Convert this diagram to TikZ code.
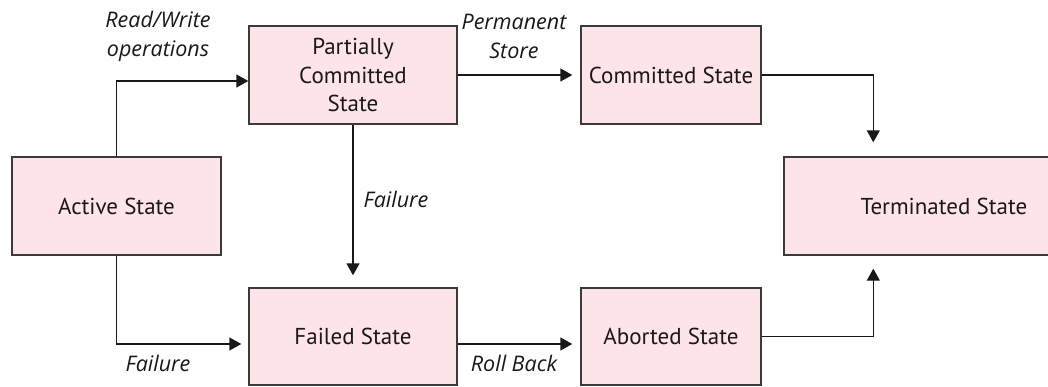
\documentclass[tikz,border=0pt]{standalone}
\usepackage{fontspec}
\setmainfont{PT Sans}
\newfontfamily\labelfont{Open Sans}
\usetikzlibrary{arrows.meta,calc}
\definecolor{boxfill}{RGB}{253,228,232}
\definecolor{edge}{RGB}{58,58,58}
\definecolor{ink}{RGB}{25,25,25}
\begin{document}
\begin{tikzpicture}[x=1pt,y=-1pt,
  state/.style={draw=edge, line width=1.4pt, fill=boxfill, align=center,
    inner sep=0pt, text=ink, font=\fontsize{23}{28.5}\selectfont},
  flow/.style={draw=ink, line width=1.4pt, -{Triangle[length=12pt,width=13pt]}},
  lbl/.style={font=\labelfont\fontsize{21.5}{29}\selectfont\itshape, text=ink,
    align=center, inner sep=0pt}]
\useasboundingbox (0,0) rectangle (1048,386);
\clip (0,0) rectangle (1048,386);
\fill[white] (0,0) rectangle (1048,386);

% transaction states
\node[state, minimum width=209pt, minimum height=98pt] (act)  at (116.5,206) {Active State};
\node[state, minimum width=208pt, minimum height=98pt] (pc)   at (353,75)    {Partially\\Committed\\State};
\node[state, minimum width=180pt, minimum height=98pt] (cm)   at (671,75)    {Committed State};
\node[state, minimum width=320pt, minimum height=98pt] (term) at (944,206)   {Terminated State};
\node[state, minimum width=208pt, minimum height=97pt] (fail) at (353,336.5) {Failed State};
\node[state, minimum width=180pt, minimum height=97pt] (ab)   at (671,336.5) {Aborted State};

% transitions
\draw[flow] (act.north) |- ($(pc.west)+(0,6)$);
\draw[flow, shorten >=8pt] (pc.east) -- (cm.west);
\draw[flow, shorten >=14pt] (cm.east) -| ($(term.north west)+(90,0)$);
\draw[flow, shorten >=12pt] (pc.south) -- (fail.north);
\draw[flow, shorten >=7pt] (act.south) |- ($(fail.west)+(0,7.5)$);
\draw[flow, shorten >=8pt] ($(fail.east)+(0,7.5)$) -- ($(ab.west)+(0,7.5)$);
\draw[flow, shorten >=13pt] (ab.east) -| ($(term.south west)+(90,0)$);

% transition labels
\node[lbl] (lrw)   at (158,36.5) {Read/Write\\operations};
\node[lbl] (lps)   at (514,36.5) {Permanent\\Store};
\node[lbl] (lf1)   at (396,199)  {Failure};
\node[lbl] (lf2)   at (158,363)  {Failure};
\node[lbl] (lrb)   at (514,363)  {Roll Back};
\end{tikzpicture}
\end{document}
